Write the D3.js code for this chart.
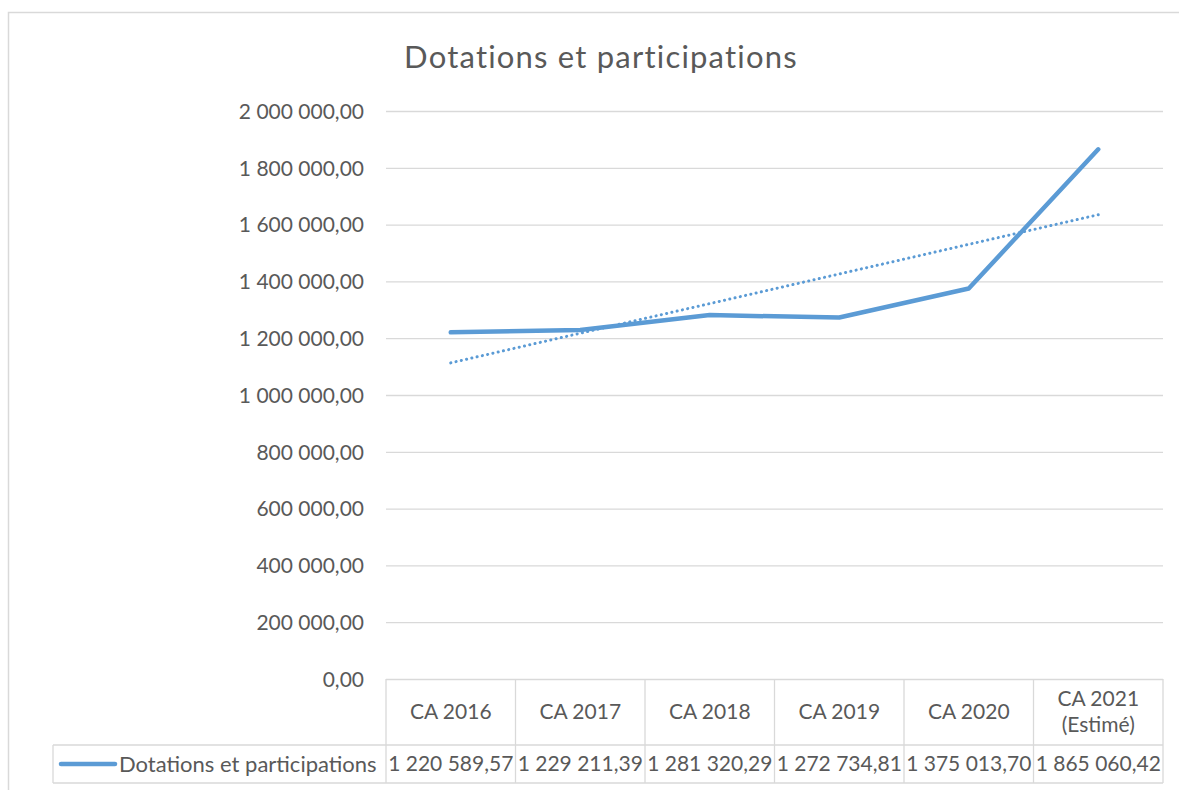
<!DOCTYPE html>
<html>
<head>
<meta charset="utf-8">
<script src="https://cdn.jsdelivr.net/npm/d3@7/dist/d3.min.js"></script>
<style>
  html, body { margin: 0; padding: 0; background: #fff; }
  svg { display: block; }
  text { font-family: Lato, "Open Sans", sans-serif; fill: #595959; }
</style>
</head>
<body>
<svg id="chart" width="1179" height="790"></svg>
<script>
const categories = ["CA 2016", "CA 2017", "CA 2018", "CA 2019", "CA 2020", "CA 2021\n(Estimé)"];
const values = [1220589.57, 1229211.39, 1281320.29, 1272734.81, 1375013.70, 1865060.42];
const valueLabels = ["1 220 589,57", "1 229 211,39", "1 281 320,29", "1 272 734,81", "1 375 013,70", "1 865 060,42"];
const yTicks = [0, 200000, 400000, 600000, 800000, 1000000, 1200000, 1400000, 1600000, 1800000, 2000000];
const seriesName = "Dotations et participations";
const title = "Dotations et participations";

const svg = d3.select("#chart");
const W = 1179, H = 790;
const plot = { left: 386, right: 1163, top: 111, bottom: 679 };
const tableHeaderBottom = 745, tableBottom = 783, legendLeft = 53;
const blue = "#5B9BD5", grid = "#D9D9D9";
const fs = "21px";

// outer chart border
svg.append("rect").attr("x", 8.5).attr("y", 12.5).attr("width", W + 20).attr("height", H + 20)
  .attr("fill", "#fff").attr("stroke", "#D9D9D9").attr("stroke-width", 1.5);

const x = d3.scaleBand().domain(categories).range([plot.left, plot.right]).padding(0);
const y = d3.scaleLinear().domain([0, 2000000]).range([plot.bottom, plot.top]);

// title
svg.append("text").attr("x", 601).attr("y", 68).attr("text-anchor", "middle")
  .style("font-size", "31px").style("letter-spacing", "1.2px").text(title);

// gridlines + y labels
const fmt = v => {
  const s = d3.format(",.2f")(v);
  return s.replace(/,/g, " ").replace(".", ",");
};
const yAxis = d3.axisLeft(y).tickValues(yTicks).tickSize(-(plot.right - plot.left)).tickFormat(fmt).tickPadding(22);
const gy = svg.append("g").attr("transform", `translate(${plot.left},0)`).call(yAxis);
gy.select(".domain").remove();
gy.selectAll(".tick line").attr("stroke", grid).attr("stroke-width", 1.3);
gy.selectAll(".tick text").style("font-size", fs).attr("fill", "#595959").attr("dy", "0.35em");

// data table
const tbl = svg.append("g").attr("fill", "none").attr("stroke", grid).attr("stroke-width", 1.3);
const edges = categories.map(c => x(c)).concat([plot.right]);
edges.forEach(e => {
  tbl.append("line").attr("x1", e).attr("x2", e).attr("y1", plot.bottom).attr("y2", tableBottom);
});
tbl.append("line").attr("x1", legendLeft).attr("x2", plot.right).attr("y1", tableHeaderBottom).attr("y2", tableHeaderBottom);
tbl.append("line").attr("x1", legendLeft).attr("x2", plot.right).attr("y1", tableBottom).attr("y2", tableBottom);
tbl.append("line").attr("x1", legendLeft).attr("x2", legendLeft).attr("y1", tableHeaderBottom).attr("y2", tableBottom);

// category headers
categories.forEach(c => {
  const lines = c.split("\n");
  const cx = x(c) + x.bandwidth() / 2;
  const cy = (plot.bottom + tableHeaderBottom) / 2;
  const lh = 26;
  const t = svg.append("text").attr("text-anchor", "middle").style("font-size", fs);
  lines.forEach((ln, i) => {
    t.append("tspan").attr("x", cx)
      .attr("y", cy + (i - (lines.length - 1) / 2) * lh)
      .attr("dy", "0.35em").text(ln);
  });
});

// values row
valueLabels.forEach((v, i) => {
  svg.append("text").attr("x", x(categories[i]) + x.bandwidth() / 2)
    .attr("y", (tableHeaderBottom + tableBottom) / 2).attr("dy", "0.35em")
    .attr("text-anchor", "middle").style("font-size", fs).text(v);
});

// legend key in table
const ly = (tableHeaderBottom + tableBottom) / 2;
svg.append("line").attr("x1", 61).attr("x2", 115).attr("y1", ly).attr("y2", ly)
  .attr("stroke", blue).attr("stroke-width", 4.5).attr("stroke-linecap", "round");
svg.append("text").attr("x", 119).attr("y", ly).attr("dy", "0.35em")
  .style("font-size", "22px").text(seriesName);

// linear trendline (least squares over the series)
const n = values.length;
const xs = d3.range(1, n + 1);
const mx = d3.mean(xs), my = d3.mean(values);
const slope = d3.sum(xs.map((xi, i) => (xi - mx) * (values[i] - my))) / d3.sum(xs.map(xi => (xi - mx) ** 2));
const icpt = my - slope * mx;
const trend = xs.map(xi => icpt + slope * xi);

const cxOf = i => x(categories[i]) + x.bandwidth() / 2;
const line = d3.line().x((d, i) => cxOf(i)).y(d => y(d));

svg.append("path").datum(values).attr("d", line).attr("fill", "none")
  .attr("stroke", blue).attr("stroke-width", 4.5).attr("stroke-linejoin", "round").attr("stroke-linecap", "round");

svg.append("path").datum(trend).attr("d", line).attr("fill", "none")
  .attr("stroke", blue).attr("stroke-width", 3).attr("stroke-dasharray", "0.1 5.3")
  .attr("stroke-linecap", "round");
</script>
</body>
</html>
